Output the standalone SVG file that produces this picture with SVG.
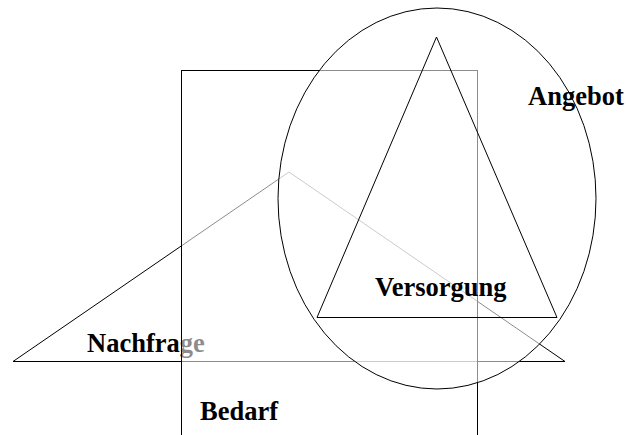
<svg xmlns="http://www.w3.org/2000/svg" width="626" height="435" viewBox="0 0 626 435">
<style>
.shape{stroke:#000;stroke-width:1}
.veil{fill:#fff;fill-opacity:0.55}
.lbl{font-family:"Liberation Serif","Times New Roman",serif;font-weight:bold;font-size:26.5px;fill:#000}
</style>
<rect width="626" height="435" fill="#fff"/>
<g id="nachfrage">
<polygon class="shape" fill="none" points="13,361.5 289,172 565,361.5"/>
<text class="lbl" x="87" y="352">Nachfrage</text>
</g>
<g id="bedarf">
<rect class="shape veil" x="181.5" y="70.5" width="296" height="380"/>
<text class="lbl" x="200" y="420">Bedarf</text>
</g>
<g id="angebot">
<ellipse class="shape veil" cx="437" cy="198.5" rx="159" ry="190.5"/>
<text class="lbl" x="528" y="105">Angebot</text>
</g>
<g id="versorgung">
<polygon class="shape" fill="none" points="436.5,37 557,317.5 317,317.5"/>
<text class="lbl" x="375" y="296">Versorgung</text>
</g>
<g id="connectors"/>
</svg>
